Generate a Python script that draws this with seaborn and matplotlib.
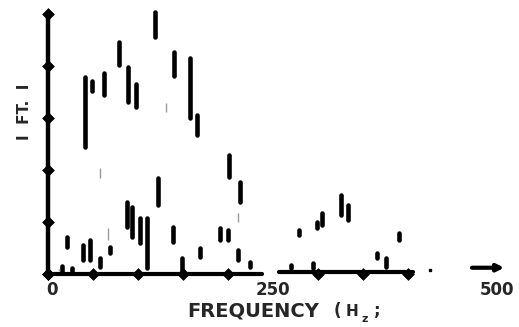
import matplotlib
matplotlib.use("Agg")
import matplotlib.pyplot as plt
import seaborn as sns
import pandas as pd

sns.set_style("white")
plt.rcParams["font.family"] = ["DejaVu Sans"]

# spectral marks: frequency (Hz), lower and upper level (tick units)
freq = [41, 49, 62, 79, 89, 98, 119, 140, 158, 166, 122, 88, 93, 102, 110,
        21, 39, 47, 58, 69, 139, 149, 169, 191, 200, 201, 213, 211, 224,
        279, 299, 304, 326, 333, 390, 366, 376, 270, 294, 16, 27]
low = [2.44, 3.52, 3.44, 4.02, 3.31, 3.21, 4.56, 3.81, 3.00, 2.67, 1.33, 0.90, 0.71, 0.60, 0.12,
       0.52, 0.27, 0.27, 0.13, 0.40, 0.62, 0.04, 0.33, 0.65, 0.65, 1.87, 1.38, 0.27, 0.13,
       0.75, 0.88, 0.94, 1.13, 1.04, 0.65, 0.31, 0.13, 0.12, 0.12, 0.04, 0.04]
high = [3.79, 3.71, 3.87, 4.46, 3.98, 3.65, 5.04, 4.27, 4.15, 3.06, 1.85, 1.38, 1.29, 1.08, 1.08,
        0.71, 0.56, 0.65, 0.31, 0.52, 0.90, 0.31, 0.50, 0.88, 0.85, 2.29, 1.77, 0.46, 0.23,
        0.85, 1.00, 1.17, 1.52, 1.33, 0.79, 0.40, 0.31, 0.17, 0.21, 0.15, 0.12]

# faint (washed out) marks
faint_freq = [131, 67, 211, 58, 12]
faint_low = [3.12, 0.65, 1.00, 1.85, 0.05]
faint_high = [3.29, 0.88, 1.17, 2.04, 0.10]

y_ticks = [0, 1, 2, 3, 4, 5]
x_ticks = [0, 50, 100, 150, 200, 300, 350, 400]

fig = plt.figure(figsize=(5.19, 3.27), dpi=100)
ax = fig.add_axes([0, 0, 1, 1])
ax.set_xlim(-53.3, 523.3)
ax.set_ylim(-1.02, 5.27)
ax.axis("off")

# axes drawn like the hand-inked original
ax.plot([0, 0], [0, 5], color="black", lw=3.2, solid_capstyle="round")
ax.plot([0, 238], [0, 0], color="black", lw=3.0, solid_capstyle="round")
ax.plot([257, 405], [0.03, 0.03], color="black", lw=3.0, solid_capstyle="round")
ax.plot([424], [0.08], "s", color="black", ms=2)

ticks = pd.concat([
    pd.DataFrame({"x": [0] * len(y_ticks), "y": y_ticks}),
    pd.DataFrame({"x": x_ticks, "y": [0] * len(x_ticks)}),
])
sns.scatterplot(data=ticks, x="x", y="y", marker="D", s=36, color="black",
                edgecolor="black", ax=ax, zorder=4)

lc = ax.vlines(freq, low, high, color="black", lw=3.3)
lc.set_capstyle("round")
ax.vlines(faint_freq, faint_low, faint_high, color="#9a9a9a", lw=1.0)

# arrow toward 500
ax.annotate("", xy=(510, 0.12), xytext=(468, 0.12),
            arrowprops=dict(arrowstyle="-|>", color="black", lw=3, mutation_scale=10))

ax.text(4, -0.31, "0", ha="center", va="center", fontsize=12, fontweight="bold")
ax.text(250, -0.31, "250", ha="center", va="center", fontsize=12, fontweight="bold")
ax.text(499, -0.31, "500", ha="center", va="center", fontsize=12, fontweight="bold")
ax.text(155, -0.72, "FREQUENCY", ha="left", va="center", fontsize=14, fontweight="bold")
ax.text(322, -0.72, "(", ha="center", va="center", fontsize=12, fontweight="bold")
ax.text(338, -0.72, "H", ha="center", va="center", fontsize=11, fontweight="bold")
ax.text(352, -0.86, "z", ha="center", va="center", fontsize=8, fontweight="bold")
ax.text(366, -0.72, ";", ha="center", va="center", fontsize=12, fontweight="bold")
ax.text(-25.6, 3.12, "I  FT.  I", rotation=90, ha="center", va="center",
        fontsize=11, fontweight="bold")

fig.savefig("out.png", dpi=100)
